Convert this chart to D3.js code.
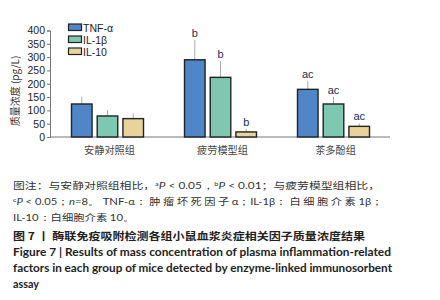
<!DOCTYPE html>
<html><head><meta charset="utf-8">
<script src="https://cdn.jsdelivr.net/npm/d3@7"></script>
<style>body{margin:0;background:#fff}svg{display:block}</style>
</head><body>
<svg id="c" width="440" height="300"></svg>
<script>
const categories = ["安静对照组", "疲劳模型组", "茶多酚组"];
const seriesNames = ["TNF-α", "IL-1β", "IL-10"];
const tnf = [124, 290, 179];
const il1b = [79, 224, 124];
const il10 = [69, 19, 40];
const tnfErr = [27, 74, 31];
const il1bErr = [22, 61, 27];
const il10Err = [20, 11, 11];
const sigTnf = ["", "b", "ac"];
const sigIl1b = ["", "b", "ac"];
const sigIl10 = ["", "b", "ac"];
const yTicks = [0, 50, 100, 150, 200, 250, 300, 350, 400];
const colors = ["#4f86c8", "#7ec8b1", "#e8d39b"];

const values = [tnf, il1b, il10];
const errs = [tnfErr, il1bErr, il10Err];
const sigs = [sigTnf, sigIl1b, sigIl10];

const svg = d3.select("#c");
const x0 = d3.scaleBand().domain(categories).range([51, 390]).paddingInner(0).paddingOuter(0);
const x1 = d3.scaleBand().domain(seriesNames).range([0, 72]).paddingInner(0.2);
const y = d3.scaleLinear().domain([0, 400]).range([137, 30.5]);

// y axis
const ya = svg.append("g").attr("transform", "translate(50,0)")
  .call(d3.axisLeft(y).tickValues(yTicks).tickSize(3).tickPadding(2));
ya.select(".domain").attr("stroke", "#777");
ya.selectAll(".tick line").attr("stroke", "#777");
ya.selectAll("text").attr("font-family", "Liberation Sans, Arial, sans-serif").attr("font-size", 10.5).attr("fill", "#222");

// x baseline
svg.append("line").attr("x1", 50).attr("x2", 390).attr("y1", y(0)).attr("y2", y(0)).attr("stroke", "#777").attr("stroke-width", 1);

// bars
const groups = svg.append("g").selectAll("g").data(categories).join("g")
  .attr("transform", c => `translate(${x0(c) + x0.bandwidth()/2 - 36},0)`);
seriesNames.forEach((s, si) => {
  groups.each(function(c, ci) {
    const g = d3.select(this);
    const v = values[si][ci], e = errs[si][ci];
    const bx = x1(s), bw = x1.bandwidth();
    g.append("line").attr("x1", bx + bw/2).attr("x2", bx + bw/2)
      .attr("y1", y(v)).attr("y2", y(v + e)).attr("stroke", "#aaa").attr("stroke-width", 1);
    g.append("rect").attr("x", bx).attr("y", y(v)).attr("width", bw).attr("height", y(0) - y(v))
      .attr("fill", colors[si]).attr("stroke", "#222").attr("stroke-width", 1.4);
    if (sigs[si][ci]) {
      g.append("text").attr("x", bx + bw/2).attr("y", y(v + e) - 3)
        .attr("text-anchor", "middle").attr("font-family", "Liberation Sans, Arial, sans-serif")
        .attr("font-size", 11).attr("fill", "#1c2a55").text(sigs[si][ci]);
    }
  });
});

// legend
const lg = svg.append("g");
seriesNames.forEach((s, i) => {
  lg.append("rect").attr("x", 68.5).attr("y", 24 + i * 12).attr("width", 13).attr("height", 6.5)
    .attr("fill", colors[i]).attr("stroke", "#222").attr("stroke-width", 1.2);
  lg.append("text").attr("x", 83).attr("y", 31.5 + i * 12).attr("font-family", "Liberation Sans, Arial, sans-serif")
    .attr("font-size", 10.5).attr("fill", "#222").text(s);
});

// y label
svg.append("text").attr("transform", "translate(19,91) rotate(-90)").attr("text-anchor", "middle")
  .attr("font-family", "Noto Sans CJK SC, sans-serif").attr("font-size", 10).attr("fill", "#333")
  .text("质量浓度 (pg/L)");

// category labels
svg.append("g").selectAll("text").data(categories).join("text")
  .attr("x", c => x0(c) + x0.bandwidth()/2 + 2).attr("y", 154).attr("text-anchor", "middle")
  .attr("font-family", "Noto Sans CJK SC, sans-serif").attr("font-size", 10.2).attr("fill", "#444")
  .text(c => c);

// captions
const cf = "Noto Sans CJK SC, sans-serif";
function line(yy, parts, len, opts = {}) {
  const t = svg.append("text").attr("x", 13).attr("y", yy).attr("font-family", opts.font || cf)
    .attr("font-size", opts.size || 9.5).attr("fill", opts.fill || "#333")
    .attr("font-weight", opts.weight || "normal");
  if (len) t.attr("textLength", len).attr("lengthAdjust", "spacingAndGlyphs");
  parts.forEach(p => {
    const ts = t.append("tspan").text(p.t);
    if (p.sup) ts.attr("font-size", 6).attr("dy", -3);
    if (p.down) ts.attr("dy", 3);
    if (p.it) ts.attr("font-style", "italic");
    if (p.f) ts.attr("font-family", p.f);
  });
  return t;
}
const lf = "Lato, Open Sans, sans-serif";
line(189, [{t:"图注：与安静对照组相比，"},{t:"a",sup:1,f:lf},{t:"P",it:1,down:1,f:lf},{t:" < 0.05，",f:lf},{t:"b",sup:1,f:lf},{t:"P",it:1,down:1,f:lf},{t:" < 0.01",f:lf},{t:"；与疲劳模型组相比，"}], 367);
line(205, [{t:"c",sup:1,f:lf},{t:"P",it:1,down:1,f:lf},{t:" < 0.05；",f:lf},{t:"n",it:1,f:lf},{t:"=8。 TNF-α：",f:lf},{t:" 肿 瘤 坏 死 因 子 "},{t:"α；IL-1β：",f:lf},{t:" 白 细 胞 介 素 "},{t:"1β；",f:lf}], 370);
line(221, [{t:"IL-10：",f:lf},{t:"白细胞介素 "},{t:"10。",f:lf}], 122);
line(240, [{t:"图 7 丨 酶联免疫吸附检测各组小鼠血浆炎症相关因子质量浓度结果"}], 352, {weight:"bold", size:10.5, fill:"#222"});
line(256, [{t:"Figure 7  |  Results of mass concentration of plasma inflammation-related"}], 378, {weight:"bold", size:10.5, fill:"#222", font:lf});
line(272, [{t:"factors in each group of mice detected by enzyme-linked immunosorbent"}], 379, {weight:"bold", size:10.5, fill:"#222", font:lf});
line(288, [{t:"assay"}], 26, {weight:"bold", size:10.5, fill:"#222", font:lf});
</script>
</body></html>
